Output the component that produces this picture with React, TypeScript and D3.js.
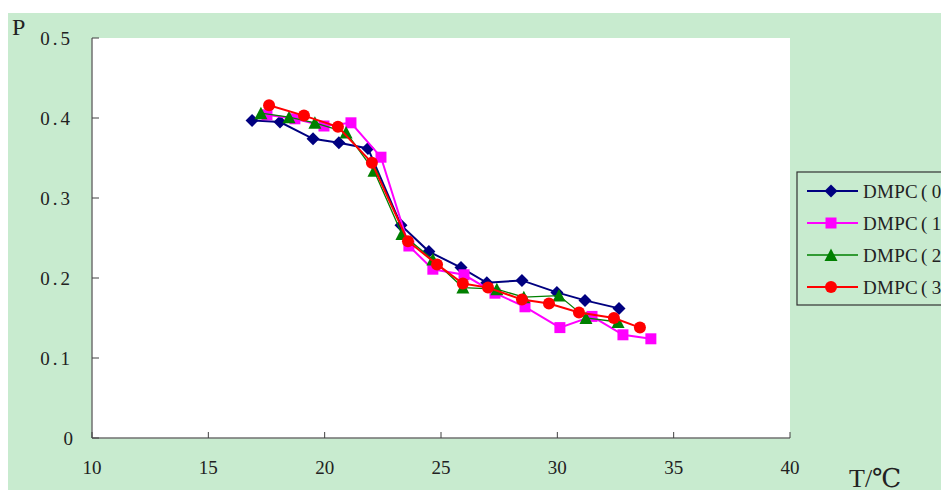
import React from "react";
import * as d3 from "d3";

const xTicks = [10, 15, 20, 25, 30, 35, 40];
const yTicks = [0, 0.1, 0.2, 0.3, 0.4, 0.5];
const yTickLabels = ["0", "0.1", "0.2", "0.3", "0.4", "0.5"];

const seriesNames = ["DMPC", "DMPC", "DMPC", "DMPC"];
const seriesPct = ["0%)", "10%)", "20%)", "30%)"];
const seriesColors = ["#000080", "#FF00FF", "#008000", "#FF0000"];
const seriesWidths = [2, 2, 1.3, 2];
const seriesMarkers = ["diamond", "square", "triangle", "circle"];

const t0 = [16.88, 18.08, 19.5, 20.61, 21.86, 23.28, 24.48, 25.86, 26.97, 28.48, 29.98, 31.19, 32.65];
const p0 = [0.397, 0.395, 0.374, 0.369, 0.362, 0.266, 0.233, 0.213, 0.194, 0.197, 0.182, 0.172, 0.162];

const t1 = [17.52, 18.72, 19.97, 21.13, 22.42, 23.62, 24.65, 25.99, 27.32, 28.61, 30.11, 31.49, 32.82, 34.02];
const p1 = [0.404, 0.399, 0.39, 0.394, 0.351, 0.24, 0.211, 0.204, 0.181, 0.164, 0.138, 0.152, 0.129, 0.124];

const t2 = [17.26, 18.47, 19.58, 20.92, 22.12, 23.32, 24.65, 25.94, 27.4, 28.56, 30.07, 31.23, 32.61];
const p2 = [0.406, 0.401, 0.394, 0.382, 0.334, 0.255, 0.223, 0.188, 0.186, 0.176, 0.178, 0.15, 0.145];

const t3 = [17.61, 19.11, 20.57, 22.03, 23.58, 24.83, 25.94, 27.02, 28.48, 29.64, 30.93, 32.43, 33.55];
const p3 = [0.416, 0.403, 0.389, 0.344, 0.246, 0.217, 0.193, 0.188, 0.173, 0.168, 0.157, 0.15, 0.138];

const seriesT = [t0, t1, t2, t3];
const seriesP = [p0, p1, p2, p3];

const W = 941;
const H = 490;
const plot = { left: 92, right: 790, top: 38, bottom: 438 };
const FONT = "'Liberation Serif', 'DejaVu Serif', serif";

function markerPath(kind: string): string {
  switch (kind) {
    case "diamond":
      return "M0,-6.5L6.5,0L0,6.5L-6.5,0Z";
    case "square":
      return "M-5.5,-5.5L5.5,-5.5L5.5,5.5L-5.5,5.5Z";
    case "triangle":
      return "M0,-6.5L6.5,6L-6.5,6Z";
    default:
      return d3.arc()({ innerRadius: 0, outerRadius: 6, startAngle: 0, endAngle: 2 * Math.PI }) as string;
  }
}

export default function App() {
  const x = d3.scaleLinear().domain([10, 40]).range([plot.left, plot.right]);
  const y = d3.scaleLinear().domain([0, 0.5]).range([plot.bottom, plot.top]);

  const line = d3
    .line<[number, number]>()
    .x((d) => x(d[0]))
    .y((d) => y(d[1]));

  const legendX = 797;
  const legendY = 172;
  const legendRows = [191, 223, 255, 287];

  return (
    <svg
      width={W}
      height={H}
      style={{ position: "absolute", left: 0, top: 0, background: "#ffffff" }}
      fontFamily={FONT}
    >
      <rect x={8} y={13} width={W - 8} height={H - 13} fill="#C8EBCF" />
      <rect
        x={plot.left}
        y={plot.top}
        width={plot.right - plot.left}
        height={plot.bottom - plot.top}
        fill="#ffffff"
      />

      <line x1={plot.left} x2={plot.left} y1={plot.top} y2={plot.bottom} stroke="#707070" strokeWidth={1.5} />
      <line x1={plot.left} x2={plot.right} y1={plot.bottom} y2={plot.bottom} stroke="#707070" strokeWidth={1.5} />

      {yTicks.map((v, i) => (
        <g key={"yt" + i}>
          <line x1={plot.left} x2={plot.left + 7} y1={y(v)} y2={y(v)} stroke="#404040" strokeWidth={1} />
          <text
            x={73}
            y={y(v)}
            dy="0.35em"
            textAnchor="end"
            fontSize={19}
            letterSpacing={i === 0 ? 0 : 3}
            fill="#222"
          >
            {yTickLabels[i]}
          </text>
        </g>
      ))}

      {xTicks.map((v, i) => (
        <g key={"xt" + i}>
          <line x1={x(v)} x2={x(v)} y1={plot.bottom} y2={plot.bottom - 6} stroke="#404040" strokeWidth={1} />
          <text x={x(v)} y={467} dy="0.35em" textAnchor="middle" fontSize={19} fill="#222">
            {v}
          </text>
        </g>
      ))}

      <text x={12} y={35} fontSize={24} fill="#222">
        P
      </text>
      <text x={849} y={487} fontSize={26} fill="#222">
        T/℃
      </text>

      {seriesT.map((ts, si) => {
        const pts: [number, number][] = ts.map((t, j) => [t, seriesP[si][j]]);
        return (
          <g key={"s" + si}>
            <path d={line(pts) as string} fill="none" stroke={seriesColors[si]} strokeWidth={seriesWidths[si]} />
            {pts.map((d, j) => (
              <path
                key={j}
                d={markerPath(seriesMarkers[si])}
                transform={`translate(${x(d[0])},${y(d[1])})`}
                fill={seriesColors[si]}
              />
            ))}
          </g>
        );
      })}

      <rect x={legendX} y={legendY} width={W - legendX + 10} height={133} fill="none" stroke="#333" strokeWidth={1.2} />
      {seriesNames.map((name, i) => (
        <g key={"lg" + i}>
          <line
            x1={807}
            x2={858}
            y1={legendRows[i]}
            y2={legendRows[i]}
            stroke={seriesColors[i]}
            strokeWidth={seriesWidths[i]}
          />
          <path
            d={markerPath(seriesMarkers[i])}
            transform={`translate(831,${legendRows[i]})`}
            fill={seriesColors[i]}
          />
          <text x={863} y={legendRows[i]} dy="0.35em" fontSize={19} letterSpacing={0.3} fill="#222">
            <tspan>{name}</tspan>
            <tspan dx={3}>(</tspan>
            <tspan dx={4}>{seriesPct[i]}</tspan>
          </text>
        </g>
      ))}
    </svg>
  );
}
